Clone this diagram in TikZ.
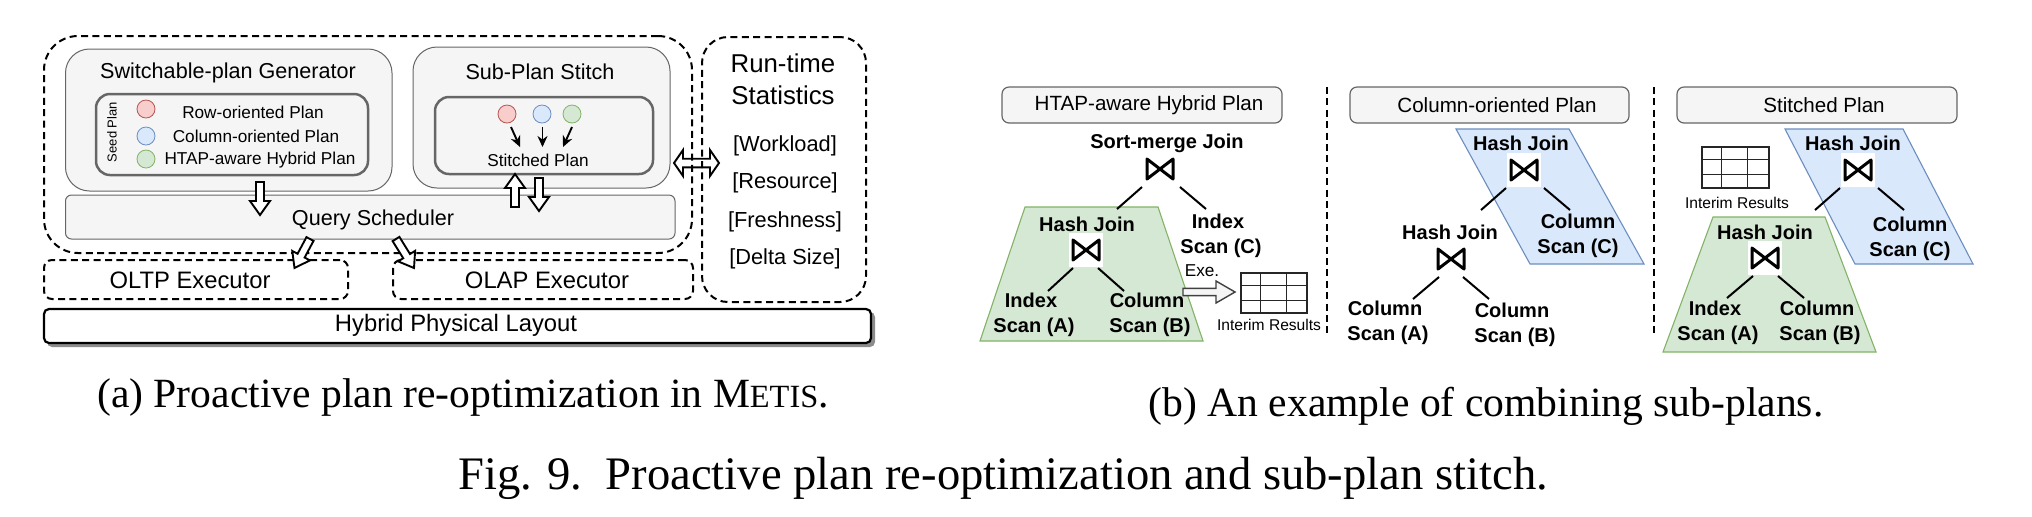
\documentclass[tikz,border=0pt]{standalone}
\usepackage{fontspec}
\setmainfont{Liberation Sans}
\newfontfamily\capfont{Liberation Serif}
\usetikzlibrary{calc,arrows.meta}
\definecolor{gfill}{HTML}{F5F5F5}
\definecolor{gline}{HTML}{666666}
\definecolor{rfill}{HTML}{F8CECC}
\definecolor{rline}{HTML}{B85450}
\definecolor{bfill}{HTML}{DAE8FC}
\definecolor{bline}{HTML}{6C8EBF}
\definecolor{nfill}{HTML}{D5E8D4}
\definecolor{nline}{HTML}{82B366}
\newcommand{\fsz}[1]{\fontsize{#1}{#1}\selectfont}
\tikzset{
  px/.style={x=0.5pt,y=-0.5pt},
  softbox/.style={draw=gline,fill=gfill,line width=0.5pt,rounded corners=12pt},
  seedbox/.style={draw=gline,fill=gfill,line width=1.25pt,rounded corners=7pt},
  qbox/.style={draw=gline,fill=gfill,line width=0.5pt,rounded corners=3pt},
  planbox/.style={draw=gline,fill=gfill,line width=0.6pt,rounded corners=3.5pt},
  dashbox/.style={draw=black,line width=1pt,dash pattern=on 3.5pt off 2.2pt,rounded corners=#1},
  layoutbox/.style={draw=black,fill=white,line width=1.1pt,rounded corners=2.5pt},
  shadowbox/.style={fill=black!45,draw=none,rounded corners=2.5pt},
  sepline/.style={draw=black,line width=1pt,dash pattern=on 3.5pt off 2.2pt},
  redc/.style={circle,draw=rline,fill=rfill,line width=0.4pt,minimum size=9pt,inner sep=0},
  bluec/.style={circle,draw=bline,fill=bfill,line width=0.4pt,minimum size=9pt,inner sep=0},
  greenc/.style={circle,draw=nline,fill=nfill,line width=0.4pt,minimum size=9pt,inner sep=0},
  t11/.style={font=\fsz{10.8}},
  t9/.style={font=\fsz{8.6}},
  t10/.style={font=\fsz{10.3}},
  tq/.style={font=\fsz{10.8}},
  tex/.style={font=\fsz{11.9}},
  t12/.style={font=\fsz{12.9}},
  t11b/.style={font=\fsz{10.9}},
  tseed/.style={font=\fsz{6.5},rotate=90},
  tsmall/.style={font=\fsz{7.8}},
  texe/.style={font=\fsz{8.6}},
  bd/.style={font=\fontsize{10}{12.6}\selectfont\bfseries,align=center,inner sep=0},
  capt/.style={font=\capfont\fsz{20.8}},
  capf/.style={font=\capfont\fsz{23.3}},
  blk/.style={draw=black,fill=white,line width=0.95pt,line join=miter},
  exearr/.style={draw=black!75,fill=gfill,line width=0.7pt},
  sarrow/.style={draw=black,line width=0.95pt,-{Stealth[length=5.5pt,width=5pt]}},
  edgeln/.style={draw=black,line width=1pt},
  grid/.style={draw=black!85,line width=0.55pt},
  tieW/.style={fill=white,draw=none,minimum size=17pt,inner sep=0},
  tieN/.style={draw=none,minimum size=17pt,inner sep=0},
  tiestroke/.style={draw=black,line width=1.5pt,line join=round,line cap=round},
  greentrap/.style={draw=nline,fill=nfill,line width=0.55pt},
  bluepar/.style={draw=bline,fill=bfill,line width=0.55pt},
}
\newcommand{\bxn}[6]{% style, name, x1,y1,x2,y2
  \pgfmathsetmacro{\bw}{(#5-#3)*0.5}\pgfmathsetmacro{\bh}{(#6-#4)*0.5}%
  \pgfmathsetmacro{\bcx}{(#3+#5)*0.5}\pgfmathsetmacro{\bcy}{(#4+#6)*0.5}%
  \node[#1,minimum width=\bw pt,minimum height=\bh pt,inner sep=0] (#2) at (\bcx,\bcy) {};}
\newcommand{\blockarr}[6]{% style, from, to, shaft half, head half, head len
  \coordinate (hb) at ($(#3)!#6!(#2)$);
  \draw[#1] ($(#2)!#4!90:(#3)$) -- ($(hb)!#4!-90:(#2)$) -- ($(hb)!#5!-90:(#2)$) -- (#3)
    -- ($(hb)!#5!90:(#2)$) -- ($(hb)!#4!90:(#2)$) -- ($(#2)!#4!-90:(#3)$) -- cycle;}
\newcommand{\tie}[4]{% style, name, x, y
  \node[#1] (#2) at (#3,#4) {};
  \draw[tiestroke] ([shift={(-13,-10)}]#2.center) -- ([shift={(13,10)}]#2.center) -- ([shift={(13,-10)}]#2.center) -- ([shift={(-13,10)}]#2.center) -- cycle;}
\newcommand{\edg}[6]{\draw[edgeln] ([shift={(#2,#3)}]#1.center) -- ([shift={(#5,#6)}]#4.center);}
\newcommand{\trl}[1]{\mbox{#1\kern3pt}}
\newcommand{\gridtab}[5]{% name prefix, x1,y1,x2,y2
  \bxn{grid}{#1}{#2}{#3}{#4}{#5}
  \draw[grid] ([xshift=10pt]#1.north west) -- ([xshift=10pt]#1.south west);
  \draw[grid] ([xshift=23pt]#1.north west) -- ([xshift=23pt]#1.south west);
  \draw[grid] ([yshift=-6.5pt]#1.north west) -- ([yshift=-6.5pt]#1.north east);
  \draw[grid] ([yshift=-14pt]#1.north west) -- ([yshift=-14pt]#1.north east);}
\begin{document}
\begin{tikzpicture}[px]
\useasboundingbox (0,0) rectangle (2032,516);
\fill[white] (0,0) rectangle (2032,516);
% --- left diagram
\bxn{dashbox=17pt}{outer}{44}{36}{692}{253}
\bxn{dashbox=13pt}{stats}{702}{37}{866}{302}
\bxn{softbox}{gen}{65.5}{49}{392}{191}
\bxn{softbox}{sub}{413}{47}{670}{188}
\bxn{seedbox}{seed}{96}{94}{368}{175}
\bxn{seedbox}{stitch}{435}{97}{653}{174}
\bxn{qbox}{sched}{65.5}{195}{675}{239}
\bxn{dashbox=4pt}{oltp}{44}{260}{348}{299}
\bxn{dashbox=4pt}{olap}{393}{260}{693}{299}
\bxn{shadowbox}{shad}{47}{312}{875}{347}
\bxn{layoutbox}{layout}{44}{309}{871}{343}
\node[t11] (gent) at (228,73) {Switchable-plan Generator};
\node[t11] (subt) at (540,72) {Sub-Plan Stitch};
\node[tseed] (seedt) at (112,132) {Seed Plan};
\node[redc] (r1) at (146,109) {};
\node[bluec] (b1) at (146,136) {};
\node[greenc] (g1) at (146,159) {};
\node[t9] (rt) at (253,112) {Row-oriented Plan};
\node[t9] (ct) at (256,136) {Column-oriented Plan};
\node[t9] (ht) at (260,160) {HTAP-aware Hybrid Plan};
\node[redc] (r2) at (507,114) {};
\node[bluec] (b2) at (542,114) {};
\node[greenc] (g2) at (572,114) {};
\node[t9] (st) at (538,160) {Stitched Plan};
\coordinate (s1a) at (511,127); \coordinate (s1b) at (520,147);
\coordinate (s2a) at (542.5,127); \coordinate (s2b) at (542.5,147);
\coordinate (s3a) at (572,127); \coordinate (s3b) at (563,147);
\draw[sarrow] (s1a) -- (s1b);
\draw[sarrow] (s2a) -- (s2b);
\draw[sarrow] (s3a) -- (s3b);
\node[tq] (qt) at (373,220) {Query Scheduler};
\node[tex] (ol) at (190,280) {OLTP Executor};
\node[tex] (oa) at (547,280) {OLAP Executor};
\node[tex] (lt) at (456,325) {Hybrid Physical Layout};
\coordinate (aA) at (260,182); \coordinate (bA) at (260,215);
\coordinate (aB) at (515,207); \coordinate (bB) at (515,174);
\coordinate (aC) at (539,178); \coordinate (bC) at (539,211);
\coordinate (aD) at (310,239); \coordinate (bD) at (294.5,268);
\coordinate (aE) at (396,239); \coordinate (bE) at (414,268);
\blockarr{blk}{aA}{bA}{2pt}{5pt}{7pt}
\blockarr{blk}{aB}{bB}{2pt}{5pt}{7pt}
\blockarr{blk}{aC}{bC}{2pt}{5pt}{7pt}
\blockarr{blk}{aD}{bD}{2pt}{5pt}{7pt}
\blockarr{blk}{aE}{bE}{2pt}{5pt}{7pt}
\coordinate (dL) at (674,163);
\coordinate (dR) at (719,163);
\draw[draw=black,line width=0.95pt] (dL) -- ++(9,-13) -- ++(0,8.7) -- ++(27,0) -- ++(0,-8.7) -- (dR) -- ++(-9,13) -- ++(0,-8.7) -- ++(-27,0) -- ++(0,8.7) -- cycle;
\node[t12] (rta) at (783,63) {Run-time};
\node[t12] (rtb) at (783,95) {Statistics};
\node[t11b] (w1) at (785,146) {[Workload]};
\node[t11b] (w2) at (785,183) {[Resource]};
\node[t11b] (w3) at (785,222) {[Freshness]};
\node[t11b] (w4) at (785,259) {[Delta Size]};
% --- right diagram: headers and separators
\bxn{planbox}{p1}{1002}{87}{1282}{123}
\bxn{planbox}{p2}{1350}{87}{1629}{123}
\bxn{planbox}{p3}{1677}{87}{1957}{123}
\node[t10] (p1t) at (1149,105) {HTAP-aware Hybrid Plan};
\node[t10] (p2t) at (1497,105) {Column-oriented Plan};
\node[t10] (p3t) at (1824,105) {Stitched Plan};
\coordinate (sa1) at (1327,87); \coordinate (sb1) at (1327,337);
\coordinate (sa2) at (1654,87); \coordinate (sb2) at (1654,333);
\draw[sepline] (sa1) -- (sb1);
\draw[sepline] (sa2) -- (sb2);
% shapes
\draw[greentrap] (1025,207) -- (1158,207) -- (1203,341) -- (980,341) -- cycle;
\draw[bluepar] (1456,129) -- (1569,129) -- (1644,264) -- (1530,264) -- cycle;
\draw[bluepar] (1785,129) -- (1903,129) -- (1973,264) -- (1855,264) -- cycle;
\draw[greentrap] (1713,217) -- (1825,217) -- (1876,352) -- (1663,352) -- cycle;
% plan 1
\node[bd] (l1) at (1167,143) {Sort-merge Join};
\tie{tieN}{j1}{1160}{169}
\node[bd] (h1) at (1087,224) {Hash Join};
\tie{tieW}{j2}{1086}{250}
\node[bd] (n1) at (1221,236) {\trl{Index}\\Scan (C)};
\node[bd] (n2) at (1034,315) {\trl{Index}\\Scan (A)};
\node[bd] (n3) at (1150,315) {\trl{Column}\\Scan (B)};
\edg{j1}{-18}{18}{h1}{30}{-15}
\edg{j1}{20}{18}{n1}{-15}{-27}
\edg{j2}{-13}{18}{n2}{14}{-24}
\edg{j2}{12}{18}{n3}{-26}{-24}
\node[texe] (ex) at (1202,271) {Exe.};
\coordinate (ea) at (1183,292); \coordinate (eb) at (1235,292);
\blockarr{exearr}{ea}{eb}{1.8pt}{5.5pt}{9.5pt}
\gridtab{tab1}{1241}{273}{1307}{313}
\node[tsmall] (ir1) at (1269,325) {Interim Results};
% plan 2
\node[bd] (l3) at (1521,143) {Hash Join};
\tie{tieW}{j3}{1524}{170}
\node[bd] (h4) at (1450,232) {Hash Join};
\tie{tieN}{j4}{1451}{259}
\node[bd] (n4) at (1578,236) {Column\\Scan (C)};
\node[bd] (n5) at (1388,323) {\trl{Column}\\Scan (A)};
\node[bd] (n6) at (1515,325) {\trl{Column}\\Scan (B)};
\edg{j3}{-18}{18}{h4}{31}{-22}
\edg{j3}{20}{18}{n4}{-8}{-26}
\edg{j4}{-12}{18}{n5}{25}{-24}
\edg{j4}{12}{18}{n6}{-26}{-26}
% plan 3
\gridtab{tab2}{1702}{147}{1769}{188}
\node[tsmall] (ir2) at (1737,203) {Interim Results};
\node[bd] (l5) at (1853,143) {Hash Join};
\tie{tieW}{j5}{1858}{170}
\node[bd] (h6) at (1765,232) {Hash Join};
\tie{tieW}{j6}{1765}{258}
\node[bd] (n7) at (1910,239) {Column\\Scan (C)};
\node[bd] (n8) at (1718,323) {\trl{Index}\\Scan (A)};
\node[bd] (n9) at (1820,323) {\trl{Column}\\Scan (B)};
\edg{j5}{-18}{18}{h6}{50}{-22}
\edg{j5}{20}{18}{n7}{-6}{-29}
\edg{j6}{-12}{18}{n8}{9}{-25}
\edg{j6}{13}{18}{n9}{-16}{-25}
% captions
\node[capt] (ca) at (463,397) {(a) Proactive plan re-optimization in M{\fsz{16.2}ETIS}.};
\node[capt] (cb) at (1486,406) {(b) An example of combining sub-plans.};
\node[capf] (cc) at (1003,478) {Fig. 9.\ \ Proactive plan re-optimization and sub-plan stitch.};
\end{tikzpicture}
\end{document}
